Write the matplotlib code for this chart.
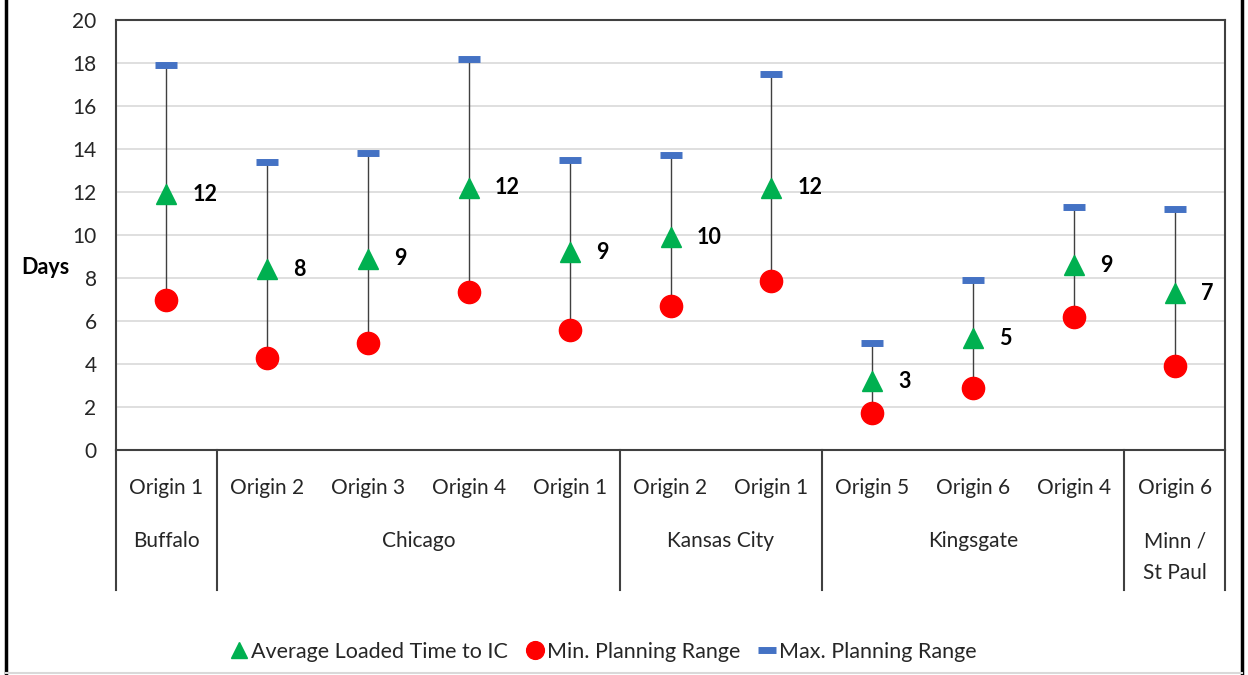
import matplotlib
matplotlib.use("Agg")
import matplotlib.pyplot as plt
from matplotlib.lines import Line2D
import matplotlib.transforms as mtransforms

plt.rcParams['font.family'] = ['Lato', 'DejaVu Sans']

origins = ["Origin 1", "Origin 2", "Origin 3", "Origin 4", "Origin 1",
           "Origin 2", "Origin 1", "Origin 5", "Origin 6", "Origin 4",
           "Origin 6"]
groups = ["Buffalo", "Chicago", "Kansas City", "Kingsgate", "Minn /\nSt Paul"]
group_sizes = [1, 4, 2, 3, 1]

avg_loaded = [11.9, 8.4, 8.9, 12.2, 9.2, 9.9, 12.2, 3.2, 5.2, 8.6, 7.3]
min_range = [7.0, 4.3, 5.0, 7.35, 5.6, 6.7, 7.85, 1.7, 2.9, 6.2, 3.9]
max_range = [17.9, 13.4, 13.8, 18.2, 13.5, 13.7, 17.5, 5.0, 7.9, 11.3, 11.2]

W, H = 1248, 675
fig = plt.figure(figsize=(W / 100, H / 100), dpi=100)
ax = fig.add_axes([116 / W, 1 - 450 / H, (1225 - 116) / W, (450 - 20) / H])

x = list(range(len(origins)))

ax.vlines(x, min_range, max_range, color='#404040', lw=1.0, zorder=2)
ax.plot(x, max_range, ls='none', marker='_', ms=16, mew=5,
        color='#4472C4', zorder=3, label='Max. Planning Range')
ax.plot(x, min_range, ls='none', marker='o', ms=16,
        color='#FF0000', zorder=3, label='Min. Planning Range')
ax.plot(x, avg_loaded, ls='none', marker='^', ms=15,
        color='#00B050', zorder=4, label='Average Loaded Time to IC')

for xi, v in zip(x, avg_loaded):
    ax.annotate(f"{v:.0f}", (xi, v), xytext=(26, 0), textcoords='offset pixels',
                ha='left', va='center', fontsize=15.5, fontweight='bold',
                color='black')

ax.set_xlim(-0.5, len(origins) - 0.5)
ax.set_ylim(0, 20)
ax.set_yticks(range(0, 21, 2))
ax.tick_params(axis='y', length=0, pad=14, labelsize=15, labelcolor='#262626')
ax.set_xticks([])
ax.grid(axis='y', color='#D9D9D9', lw=1.2)
ax.set_axisbelow(True)
for s in ax.spines.values():
    s.set_color('#404040')
    s.set_linewidth(1.5)

# Two-level category axis drawn below the plot
trans = mtransforms.blended_transform_factory(ax.transData, ax.transAxes)
span = 450 - 20


def frac(py):
    return -(py - 450) / span


bottom = frac(590)
for xi, name in zip(x, origins):
    ax.text(xi, frac(488), name, transform=trans, ha='center', va='center',
            fontsize=15, color='#262626')

edge = -0.5
boundaries = [edge]
for g, n in zip(groups, group_sizes):
    centre = edge + n / 2
    for k, line in enumerate(g.split("\n")):
        ax.text(centre, frac(541 + 32 * k), line, transform=trans,
                ha='center', va='center', fontsize=15, color='#262626')
    edge += n
    boundaries.append(edge)
for b in boundaries:
    ax.plot([b, b], [0, bottom], transform=trans, color='#404040', lw=1.5,
            clip_on=False)

fig.text(45 / W, 1 - 268 / H, "Days", ha='center', va='center',
         fontsize=15.5, fontweight='bold')

handles, labels = ax.get_legend_handles_labels()
order = [2, 1, 0]
fig.legend([handles[i] for i in order], [labels[i] for i in order],
           loc='center', bbox_to_anchor=(605 / W, 1 - 652 / H), ncol=3,
           frameon=False, fontsize=15.5, handlelength=0.5, handletextpad=0.3,
           columnspacing=1.0, markerscale=0.8, labelcolor='#262626')

# Outer frame of the chart
fig.add_artist(Line2D([6 / W, 6 / W], [0, 1], color='black', lw=2.5))
fig.add_artist(Line2D([1242 / W, 1242 / W], [0, 1], color='black', lw=2.5))
fig.add_artist(Line2D([6 / W, 1242 / W], [2 / H, 2 / H], color='#D9D9D9', lw=1.5))

fig.savefig("out.png", dpi=100)
